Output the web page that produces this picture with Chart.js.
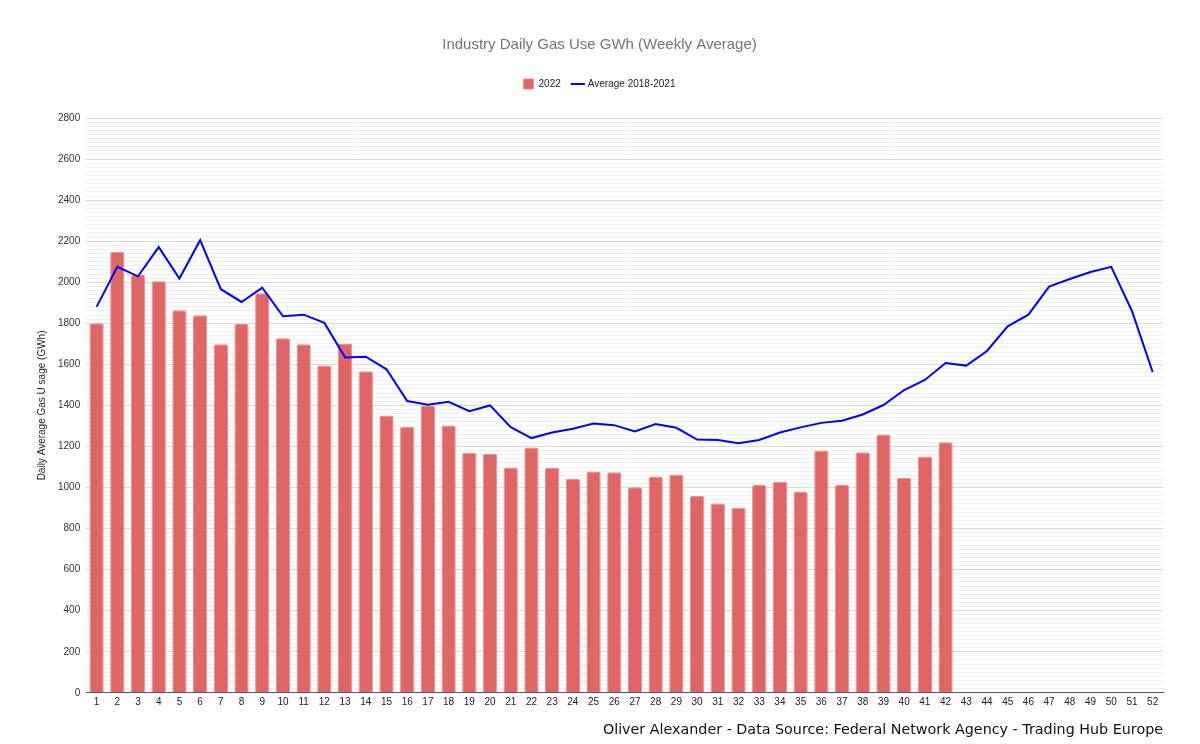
<!DOCTYPE html>
<html>
<head>
<meta charset="utf-8">
<script src="https://cdn.jsdelivr.net/npm/chart.js@4.4.0/dist/chart.umd.min.js"></script>
<style>
html,body{margin:0;padding:0;background:#fff;}
#wrap{width:1200px;height:744px;position:relative;}
</style>
</head>
<body>
<div id="wrap"><canvas id="c"></canvas></div>
<script>
const weeks = Array.from({length:52},(_,i)=>String(i+1));
const use2022 = [1800,2148,2035,2005,1863,1839,1698,1796,1946,1727,1698,1595,1702,1566,1351,1296,1398,1302,1170,1165,1097,1195,1097,1043,1078,1074,1001,1054,1063,960,922,901,1012,1029,978,1181,1012,1172,1258,1048,1151,1220];
const avg1821 = [1880,2075,2029,2171,2018,2205,1966,1904,1974,1834,1842,1802,1634,1637,1576,1421,1403,1418,1372,1400,1294,1241,1268,1286,1312,1304,1273,1309,1291,1234,1231,1216,1232,1268,1293,1315,1325,1356,1402,1475,1524,1607,1594,1665,1785,1842,1979,2016,2050,2075,1860,1563];
const yMin = 0, yMax = 2800, yMinorStep = 20, yMajorStep = 200;

const legendGap = {
  id:'legendGap',
  beforeInit(chart){
    const lg = chart.legend;
    if(!lg) return;
    const orig = lg.fit;
    lg.fit = function(){ orig.call(this); this.height += 19; };
  }
};

new Chart(document.getElementById('c'), {
  data: {
    labels: weeks,
    datasets: [
      {type:'line', label:'Average 2018-2021', data:avg1821, borderColor:'#0000ff', backgroundColor:'#0000ff', borderWidth:2, pointRadius:0, tension:0, order:0, pointStyle:'line'},
      {type:'bar', label:'2022', data:use2022, backgroundColor:'#e06666', borderColor:'#ea8c8c', borderWidth:{top:1,left:1,right:1,bottom:0}, borderRadius:{topLeft:2,topRight:2}, borderSkipped:'bottom', categoryPercentage:1, barPercentage:0.69, order:1, pointStyle:'rect'}
    ]
  },
  options: {
    responsive:true, maintainAspectRatio:false, animation:false,
    layout:{padding:{top:36,left:36,right:37,bottom:4}},
    plugins:{
      title:{display:true, text:'Industry Daily Gas Use GWh (Weekly Average)', color:'#757575', font:{family:'Liberation Sans, Arial, sans-serif', size:15, weight:'normal'}, padding:{top:0,bottom:13}},
      subtitle:{display:true, position:'bottom', align:'end', text:'Oliver Alexander - Data Source: Federal Network Agency - Trading Hub Europe', color:'#111', font:{family:'DejaVu Sans, sans-serif', size:14.3, weight:'normal'}, padding:{top:11,bottom:1}},
      legend:{position:'top', reverse:true, labels:{usePointStyle:true, boxWidth:10, boxHeight:10, color:'#222', font:{family:'Liberation Sans, Arial, sans-serif', size:10}, padding:12}},
      tooltip:{enabled:false}
    },
    scales:{
      x:{offset:true, grid:{display:false, drawTicks:false}, border:{display:true, color:'#555', width:1}, ticks:{color:'#222', maxRotation:0, autoSkip:false, font:{family:'Liberation Sans, Arial, sans-serif', size:10}, padding:3}},
      y:{min:yMin, max:yMax, border:{display:false},
         title:{display:true, text:'Daily Average Gas U sage (GWh)', color:'#222', font:{family:'Liberation Sans, Arial, sans-serif', size:10}, padding:{top:0,bottom:4}},
         ticks:{stepSize:yMinorStep, autoSkip:false, color:'#333', font:{family:'Liberation Sans, Arial, sans-serif', size:10}, padding:6,
           callback:(v)=> (v % yMajorStep === 0 ? String(v) : '')},
         grid:{drawTicks:false, lineWidth:1, color:(ctx)=> (ctx.tick && ctx.tick.value % yMajorStep === 0 ? '#d9d9d9' : '#f0f0f0')}
      }
    }
  },
  plugins:[legendGap]
});
</script>
</body>
</html>
